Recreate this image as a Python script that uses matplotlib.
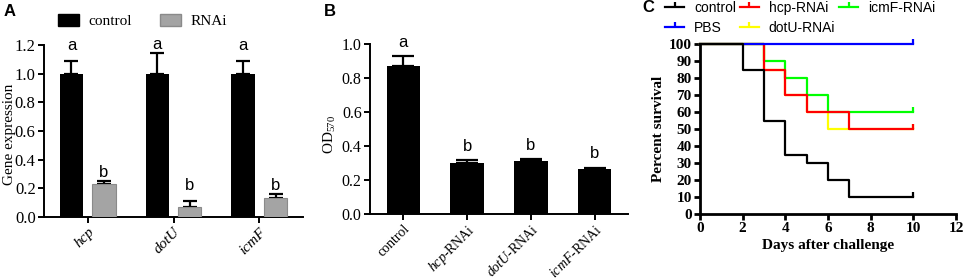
import numpy as np
import matplotlib
matplotlib.use("Agg")
import matplotlib.pyplot as plt
from matplotlib.patches import Patch
from matplotlib.lines import Line2D

plt.rcParams["font.family"] = "Liberation Serif"
plt.rcParams["mathtext.fontset"] = "custom"
plt.rcParams["mathtext.rm"] = "Liberation Serif"
plt.rcParams["mathtext.it"] = "Liberation Serif:italic"
plt.rcParams["axes.linewidth"] = 1.4

# ---- panel A: gene expression
genes = ["hcp", "dotU", "icmF"]
ctrl_mean = [1.0, 1.0, 1.0]
ctrl_err = [0.085, 0.145, 0.085]
rnai_mean = [0.23, 0.07, 0.13]
rnai_err = [0.02, 0.04, 0.03]
letters_ctrl = ["a", "a", "a"]
letters_rnai = ["b", "b", "b"]

# ---- panel B: biofilm OD570
groups_b = ["control", r"$\mathit{hcp}$-RNAi", r"$\mathit{dotU}$-RNAi", r"$\mathit{icmF}$-RNAi"]
od_mean = [0.87, 0.30, 0.31, 0.265]
od_err = [0.06, 0.015, 0.012, 0.008]
letters_b = ["a", "b", "b", "b"]

# ---- panel C: survival curves
days_control = [0, 2, 3, 4, 5, 6, 7, 10]
surv_control = [100, 85, 55, 35, 30, 20, 10, 10]
days_hcp = [0, 3, 4, 5, 7, 10]
surv_hcp = [100, 85, 70, 60, 50, 50]
days_icmf = [0, 3, 4, 5, 6, 10]
surv_icmf = [100, 90, 80, 70, 60, 60]
days_dotu = [0, 3, 4, 5, 6, 10]
surv_dotu = [100, 85, 70, 60, 50, 50]
days_pbs = [0, 10]
surv_pbs = [100, 100]

W, H = 964, 279
fig = plt.figure(figsize=(W / 100, H / 100), dpi=100)


def rect(l, t, r, b):
    return [l / W, 1 - b / H, (r - l) / W, (b - t) / H]


def style(ax, size=12):
    ax.spines["top"].set_visible(False)
    ax.spines["right"].set_visible(False)
    ax.tick_params(direction="out", length=4, width=1.4, labelsize=size, pad=2)


def letter(ax, x, y, s, off=8):
    # significance letter, centred 'off' points above the error bar
    ax.annotate(s, (x, y), xytext=(0, off), textcoords="offset points",
                ha="center", va="center", fontsize=12, family="Liberation Sans")


# A
axA = fig.add_axes(rect(44, 45, 303, 217))
style(axA, 12)
x = np.arange(len(genes))
w = 0.27
ek = dict(elinewidth=1.6, capthick=1.6, ecolor="black")
axA.bar(x - 0.19, ctrl_mean, w, color="black", zorder=3)
axA.errorbar(x - 0.19, ctrl_mean, yerr=[np.zeros(3), ctrl_err], fmt="none", capsize=5, zorder=2, **ek)
axA.bar(x + 0.19, rnai_mean, w, color="#a4a4a4", edgecolor="#8a8a8a", linewidth=0.8, zorder=3)
axA.errorbar(x + 0.19, rnai_mean, yerr=[np.zeros(3), rnai_err], fmt="none", capsize=5, zorder=2, **ek)
for i, (oa, ob) in enumerate([(11.5, 6.5), (6, 11.5), (11.5, 6.5)]):
    letter(axA, x[i] - 0.19, ctrl_mean[i] + ctrl_err[i], letters_ctrl[i], off=oa)
    letter(axA, x[i] + 0.19, rnai_mean[i] + rnai_err[i], letters_rnai[i], off=ob)
axA.set_xlim(-0.51, 2.51)
axA.set_ylim(0, 1.2)
axA.set_yticks(np.arange(0, 1.21, 0.2))
axA.yaxis.set_major_formatter(matplotlib.ticker.FormatStrFormatter("%.1f"))
axA.set_xticks(x)
axA.set_xticklabels(genes, rotation=45, ha="right", rotation_mode="anchor", fontstyle="italic", fontsize=11)
axA.set_ylabel("Gene expression", fontsize=11)
axA.yaxis.set_label_coords(-0.11, 0.48)
axA.legend(handles=[Patch(facecolor="black", edgecolor="black", label="control"),
                    Patch(facecolor="#a4a4a4", edgecolor="#8a8a8a", label="RNAi")],
           loc="center left", bbox_to_anchor=(58 / W, 1 - 21 / H), bbox_transform=fig.transFigure,
           ncol=2, frameon=False, fontsize=11, handlelength=1.4, handleheight=0.9,
           handletextpad=0.6, columnspacing=1.8, borderpad=0, borderaxespad=0)

# B
axB = fig.add_axes(rect(370, 44, 628, 214))
style(axB, 11.5)
xb = np.arange(len(groups_b))
axB.bar(xb, od_mean, 0.52, color="black", zorder=3)
axB.errorbar(xb, od_mean, yerr=[np.zeros(4), od_err], fmt="none", capsize=8, zorder=2, **ek)
for i in range(4):
    letter(axB, xb[i], od_mean[i] + od_err[i], letters_b[i], off=10)
axB.set_xlim(-0.52, 3.52)
axB.set_ylim(0, 1.0)
axB.set_yticks(np.arange(0, 1.01, 0.2))
axB.yaxis.set_major_formatter(matplotlib.ticker.FormatStrFormatter("%.1f"))
axB.set_xticks(xb)
axB.set_xticklabels(groups_b, rotation=45, ha="right", rotation_mode="anchor", fontsize=10)
axB.set_ylabel("OD$_{570}$", fontsize=11)
axB.yaxis.set_label_coords(-0.125, 0.47)

# C
axC = fig.add_axes(rect(700, 44, 956, 214))
style(axC, 11)
axC.spines["left"].set_linewidth(2)
axC.spines["bottom"].set_linewidth(2)
axC.tick_params(width=2)
censor = [(0, 0), (0, 1)]
series = [
    (days_dotu, surv_dotu, "#ffff00", "dotU-RNAi"),
    (days_icmf, surv_icmf, "#00ff00", "icmF-RNAi"),
    (days_hcp, surv_hcp, "#ff0000", "hcp-RNAi"),
    (days_pbs, surv_pbs, "#0000ff", "PBS"),
    (days_control, surv_control, "black", "control"),
]
handles = {}
for d, s, c, lab in series:
    axC.step(d, s, where="post", color=c, lw=1.6, clip_on=False)
    axC.plot(d[-1:], s[-1:], ls="none", marker=censor, ms=7, mec=c, mew=1.6, clip_on=False)
    handles[lab] = Line2D([], [], color=c, lw=1.6, marker=censor, ms=7, mec=c, mew=1.6)
axC.set_xlim(0, 12)
axC.set_ylim(0, 100)
axC.set_xticks(np.arange(0, 13, 2))
axC.set_yticks(np.arange(0, 101, 10))
for t in axC.get_xticklabels() + axC.get_yticklabels():
    t.set_fontweight("bold")
axC.set_xlabel("Days after challenge", fontsize=11, fontweight="bold", labelpad=3)
axC.set_ylabel("Percent survival", fontsize=11, fontweight="bold", labelpad=3)
order = ["control", "PBS", "hcp-RNAi", "dotU-RNAi", "icmF-RNAi"]
axC.legend(handles=[handles[k] for k in order], labels=order, loc="upper left",
           bbox_to_anchor=(665 / W, 1 - 1 / H), bbox_transform=fig.transFigure,
           ncol=3, frameon=False, prop={"family": "Liberation Sans", "size": 10},
           handlelength=1.4, handletextpad=0.7, columnspacing=0.25, labelspacing=0.4,
           borderpad=0, borderaxespad=0)

# panel letters
for lx, ly, s in [(4, 12, "A"), (324, 12, "B"), (642, 8, "C")]:
    fig.text(lx / W, 1 - ly / H, s, family="Liberation Sans", fontweight="bold",
             fontsize=12, va="center", ha="left")

fig.savefig("out.png", dpi=100)
